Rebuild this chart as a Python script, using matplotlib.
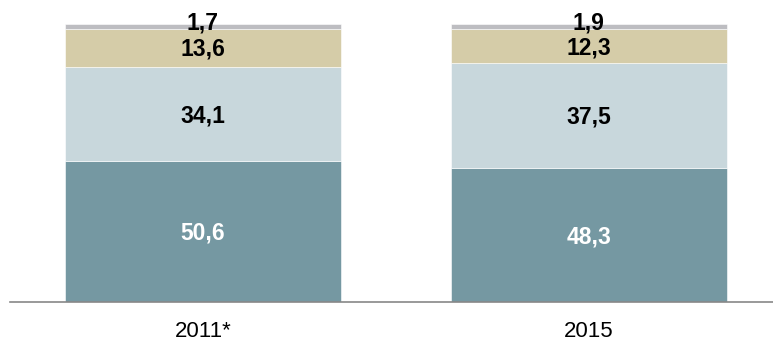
import matplotlib
matplotlib.use("Agg")
import matplotlib.pyplot as plt
import numpy as np

categories = ["2011*", "2015"]
seg1 = [50.6, 48.3]
seg2 = [34.1, 37.5]
seg3 = [13.6, 12.3]
seg4 = [1.7, 1.9]
labels1 = ["50,6", "48,3"]
labels2 = ["34,1", "37,5"]
labels3 = ["13,6", "12,3"]
labels4 = ["1,7", "1,9"]

colors = ["#7598a2", "#c8d7dc", "#d5cca8", "#bdbdc1"]
txtcol = ["white", "black", "black", "black"]

plt.rcParams['font.family'] = ['Liberation Sans', 'DejaVu Sans']
fig = plt.figure(figsize=(7.73, 3.42), dpi=100)
ax = fig.add_axes([10/773, 40/342, 763/773, 278/342])

fs = 16.5
half_cap = 0.716 * fs * 100 / 72 / 2 / 2.78  # in data units

x = np.arange(len(categories))
bottom = np.zeros(len(categories))
for vals, labs, c, tc in zip([seg1, seg2, seg3, seg4], [labels1, labels2, labels3, labels4], colors, txtcol):
    vals = np.array(vals)
    ax.bar(x, vals, bottom=bottom, width=0.715, color=c, edgecolor='white', linewidth=0.4)
    for xi, b, v, l in zip(x, bottom, vals, labs):
        if v < 5:
            yb = b - 0.1
        else:
            yb = b + v / 2 - half_cap
        ax.text(xi, yb, l, ha='center', va='baseline', fontsize=fs, fontweight='bold', color=tc)
    bottom += vals

ax.set_xlim(-0.5, 1.477)
ax.set_ylim(0, 100)
ax.set_xticks(x)
ax.set_xticklabels(categories, fontsize=16)
ax.tick_params(axis='x', length=0, pad=14)
ax.set_yticks([])
for s in ['top', 'right', 'left']:
    ax.spines[s].set_visible(False)
ax.spines['bottom'].set_color('#888888')
ax.spines['bottom'].set_linewidth(1.2)
fig.savefig("out.png", dpi=100)
